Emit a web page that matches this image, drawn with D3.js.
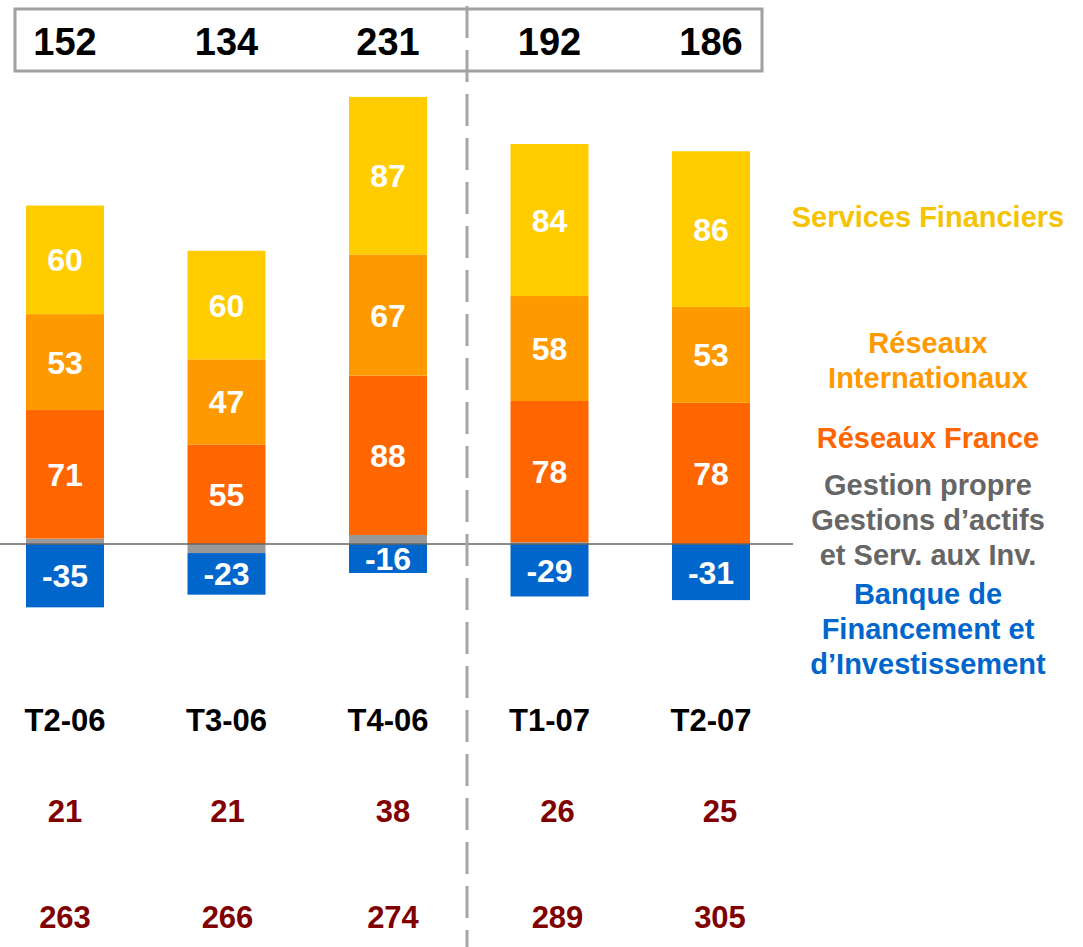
<!DOCTYPE html>
<html>
<head>
<meta charset="utf-8">
<script src="https://cdn.jsdelivr.net/npm/d3@7"></script>
<style>
body{margin:0;background:#fff;}
#container{width:1083px;height:947px;}
text{font-family:"Liberation Sans",Arial,sans-serif;font-weight:bold;}
</style>
</head>
<body>
<div id="container"></div>
<script>
var quarters=['T2-06','T3-06','T4-06','T1-07','T2-07'];
var gestionPropre=[3,-5,5,1,0];
var reseauxFrance=[71,55,88,78,78];
var reseauxInter=[53,47,67,58,53];
var servicesFin=[60,60,87,84,86];
var banqueFin=[-35,-23,-16,-29,-31];
var totals=[152,134,231,192,186];
var rowOne=[21,21,38,26,25];
var rowTwo=[263,266,274,289,305];

var keys=['gestion','france','inter','services','bfi'];
var colors={gestion:'#999999',france:'#FF6600',inter:'#FF9900',services:'#FFCC00',bfi:'#0066CC'};
var legendLines={
    services:['Services Financiers'],
    inter:['Réseaux','Internationaux'],
    france:['Réseaux France'],
    gestion:['Gestion propre','Gestions d’actifs','et Serv. aux Inv.'],
    bfi:['Banque de','Financement et','d’Investissement']
};
var legendColors={services:'#F5C300',inter:'#FF9900',france:'#FF6600',gestion:'#666666',bfi:'#0066CC'};

var width=1083;
var height=947;
var barWidth=78;

var rows=quarters.map(function(q,i){
    return {q:q,gestion:gestionPropre[i],france:reseauxFrance[i],inter:reseauxInter[i],services:servicesFin[i],bfi:banqueFin[i]};
});

var svg=d3.select('#container')
.append('svg')
.attr('width',width)
.attr('height',height)
.style('background-color','white');

var xScale=d3.scalePoint()
.domain(quarters)
.range([65,711]);

var yScale=d3.scaleLinear()
.domain([-50,250])
.range([634.5,91.5]);

var stack=d3.stack()
.keys(keys)
.offset(d3.stackOffsetDiverging);
var series=stack(rows);

// bars
var layers=svg.append('g').attr('id','bars')
.selectAll('g')
.data(series)
.enter()
.append('g')
.attr('fill',function(s){return colors[s.key];});

layers.selectAll('rect')
.data(function(s){return s;})
.enter()
.append('rect')
.attr('x',function(d){return xScale(d.data.q)-barWidth/2;})
.attr('y',function(d){return yScale(Math.max(d[0],d[1]));})
.attr('width',barWidth)
.attr('height',function(d){return Math.abs(yScale(d[0])-yScale(d[1]));});

// white value labels (not for gestion propre)
layers.filter(function(s){return s.key!=='gestion';})
.selectAll('text')
.data(function(s){return s.map(function(d){d.key=s.key;return d;});})
.enter()
.append('text')
.attr('x',function(d){return xScale(d.data.q);})
.attr('y',function(d){return yScale((d[0]+d[1])/2);})
.attr('dy','0.36em')
.attr('text-anchor','middle')
.attr('fill','white')
.style('font-size','32px')
.text(function(d){return d.data[d.key];});

// zero line
svg.append('line')
.attr('x1',0)
.attr('x2',793)
.attr('y1',yScale(0))
.attr('y2',yScale(0))
.attr('stroke','#666666')
.attr('stroke-width',1.5);

// totals box
svg.append('rect')
.attr('x',15)
.attr('y',9)
.attr('width',747)
.attr('height',62)
.attr('fill','none')
.attr('stroke','#A0A0A0')
.attr('stroke-width',3);

svg.append('g').selectAll('text')
.data(totals)
.enter()
.append('text')
.attr('x',function(d,i){return xScale(quarters[i]);})
.attr('y',41)
.attr('dy','0.36em')
.attr('text-anchor','middle')
.attr('fill','black')
.style('font-size','38px')
.text(function(d){return d;});

// dashed separator
svg.append('line')
.attr('x1',467)
.attr('x2',467)
.attr('y1',6)
.attr('y2',height)
.attr('stroke','#A6A6A6')
.attr('stroke-width',3)
.attr('stroke-dasharray','32,12');

// category labels
svg.append('g').selectAll('text')
.data(quarters)
.enter()
.append('text')
.attr('x',function(d){return xScale(d);})
.attr('y',720)
.attr('dy','0.36em')
.attr('text-anchor','middle')
.attr('fill','black')
.style('font-size','31px')
.text(function(d){return d;});

// extra rows (slight nudge of the later columns, as on the slide)
var rowNudge=[0,1,5,8,9];
[[rowOne,811],[rowTwo,917]].forEach(function(r){
    svg.append('g').selectAll('text')
    .data(r[0])
    .enter()
    .append('text')
    .attr('x',function(d,i){return xScale(quarters[i])+rowNudge[i];})
    .attr('y',r[1])
    .attr('dy','0.36em')
    .attr('text-anchor','middle')
    .attr('fill','#800000')
    .style('font-size','31px')
    .text(function(d){return d;});
});

// legend
var legendY={services:217,inter:343,france:438,gestion:485,bfi:594};
var legend=svg.append('g').attr('id','legend');
['services','inter','france','gestion','bfi'].forEach(function(k){
    legend.append('g').selectAll('text')
    .data(legendLines[k])
    .enter()
    .append('text')
    .attr('x',928)
    .attr('y',function(d,i){return legendY[k]+i*35;})
    .attr('dy','0.36em')
    .attr('text-anchor','middle')
    .attr('fill',legendColors[k])
    .style('font-size','29px')
    .text(function(d){return d;});
});
</script>
</body>
</html>
